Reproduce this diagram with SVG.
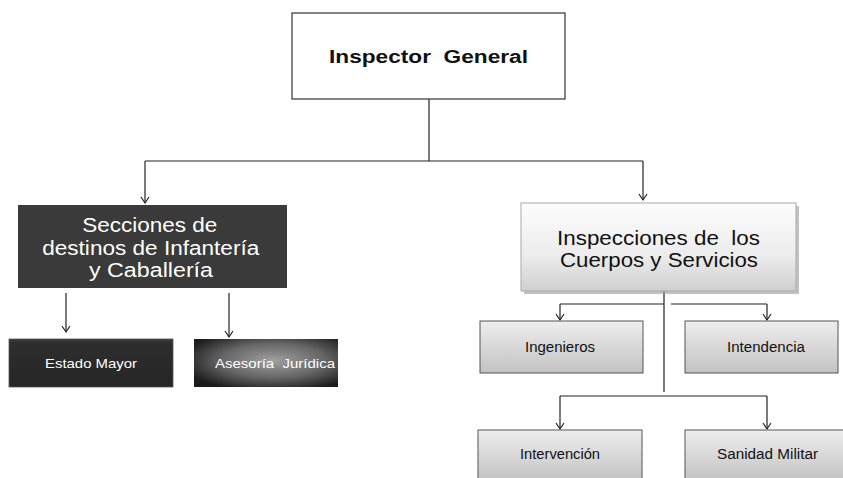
<svg xmlns="http://www.w3.org/2000/svg" width="843" height="478" viewBox="0 0 843 478">
<style>
.ln{stroke:#222;stroke-width:1.2;fill:none}
.arr{marker-end:url(#ah)}
.t{font-family:"Liberation Sans",Arial,sans-serif;text-anchor:middle}
.wt{fill:#fff}
.bt{fill:#111}
.gbox{fill:url(#gg);stroke:#555;stroke-width:1}
</style>
<defs>
<marker id="ah" markerUnits="userSpaceOnUse" markerWidth="10" markerHeight="10" refX="8" refY="5" orient="auto" viewBox="0 0 10 10">
<path d="M2,1 L8,5 L2,9" fill="none" stroke="#222" stroke-width="1.2"/>
</marker>
<linearGradient id="gg" x1="0" y1="0" x2="0" y2="1">
<stop offset="0" stop-color="#eeeeee"/>
<stop offset="1" stop-color="#c2c2c2"/>
</linearGradient>
<linearGradient id="gw" x1="0" y1="0" x2="0" y2="1">
<stop offset="0" stop-color="#fdfdfd"/>
<stop offset="0.6" stop-color="#ececec"/>
<stop offset="1" stop-color="#cfcfcf"/>
</linearGradient>
<linearGradient id="gd" x1="0" y1="0" x2="0" y2="1">
<stop offset="0" stop-color="#3a3a3a"/>
<stop offset="0.1" stop-color="#2d2d2d"/>
<stop offset="1" stop-color="#262626"/>
</linearGradient>
<radialGradient id="gr" cx="0.55" cy="0.45" r="0.65">
<stop offset="0" stop-color="#a0a0a0"/>
<stop offset="0.55" stop-color="#666"/>
<stop offset="1" stop-color="#1c1c1c"/>
</radialGradient>
</defs>

<g id="connectors">
<path class="ln" d="M429,99 V161 M145,161 H643"/>
<path class="ln arr" d="M145,161 V203"/>
<path class="ln arr" d="M643,161 V200"/>
<path class="ln arr" d="M66,293 V332"/>
<path class="ln arr" d="M229,293 V337"/>
<path class="ln" d="M664,291 V392 M560,304 H664 M671,304 H767 M560,396 H767"/>
<path class="ln arr" d="M560,304 V320"/>
<path class="ln arr" d="M767,304 V320"/>
<path class="ln arr" d="M560,396 V429"/>
<path class="ln arr" d="M767,396 V429"/>
</g>

<g id="inspector-general">
<rect x="292" y="13" width="273" height="86" fill="#fff" stroke="#333" stroke-width="1.2"/>
<text class="t bt" x="428.5" y="63" font-size="18" font-weight="bold" textLength="199" lengthAdjust="spacingAndGlyphs" xml:space="preserve">Inspector  General</text>
</g>

<g id="secciones">
<rect x="18" y="205" width="269" height="83" fill="#3a3a3a"/>
<text class="t wt" font-size="20">
<tspan x="152.5" y="232" textLength="135" lengthAdjust="spacingAndGlyphs">Secciones de</tspan>
<tspan x="153.5" y="255" textLength="217" lengthAdjust="spacingAndGlyphs">destinos de Infantería</tspan>
<tspan x="151" y="277" textLength="124" lengthAdjust="spacingAndGlyphs">y Caballería</tspan>
</text>
</g>

<g id="estado-mayor">
<rect x="9" y="339" width="164" height="48" fill="url(#gd)" stroke="#555" stroke-width="0.8"/>
<text class="t wt" x="91" y="368" font-size="13.5" textLength="92" lengthAdjust="spacingAndGlyphs">Estado Mayor</text>
</g>

<g id="asesoria">
<rect x="194" y="339" width="144" height="48" fill="url(#gr)"/>
<text class="t wt" x="275" y="368" font-size="13.5" textLength="120" lengthAdjust="spacingAndGlyphs" xml:space="preserve">Asesoría  Jurídica</text>
</g>

<g id="inspecciones">
<rect x="524" y="206" width="275" height="88" fill="#9a9a9a" opacity="0.6"/>
<rect x="521" y="203" width="275" height="88" fill="url(#gw)" stroke="#aaa" stroke-width="1"/>
<text class="t bt" font-size="20" xml:space="preserve"><tspan x="658.5" y="245" textLength="203" lengthAdjust="spacingAndGlyphs">Inspecciones de  los</tspan><tspan x="659" y="267" textLength="198" lengthAdjust="spacingAndGlyphs">Cuerpos y Servicios</tspan></text>
</g>

<g id="ingenieros">
<rect x="480" y="321" width="163" height="52" class="gbox"/>
<text class="t bt" x="560" y="352" font-size="14" textLength="70" lengthAdjust="spacingAndGlyphs">Ingenieros</text>
</g>

<g id="intendencia">
<rect x="685" y="321" width="153" height="52" class="gbox"/>
<text class="t bt" x="766" y="352" font-size="14" textLength="78" lengthAdjust="spacingAndGlyphs">Intendencia</text>
</g>

<g id="intervencion">
<rect x="478" y="430" width="164" height="52" class="gbox"/>
<text class="t bt" x="560" y="459" font-size="14" textLength="80" lengthAdjust="spacingAndGlyphs">Intervención</text>
</g>

<g id="sanidad-militar">
<rect x="685" y="430" width="163" height="52" class="gbox"/>
<text class="t bt" x="767.5" y="459" font-size="14" textLength="101" lengthAdjust="spacingAndGlyphs">Sanidad Militar</text>
</g>
</svg>
